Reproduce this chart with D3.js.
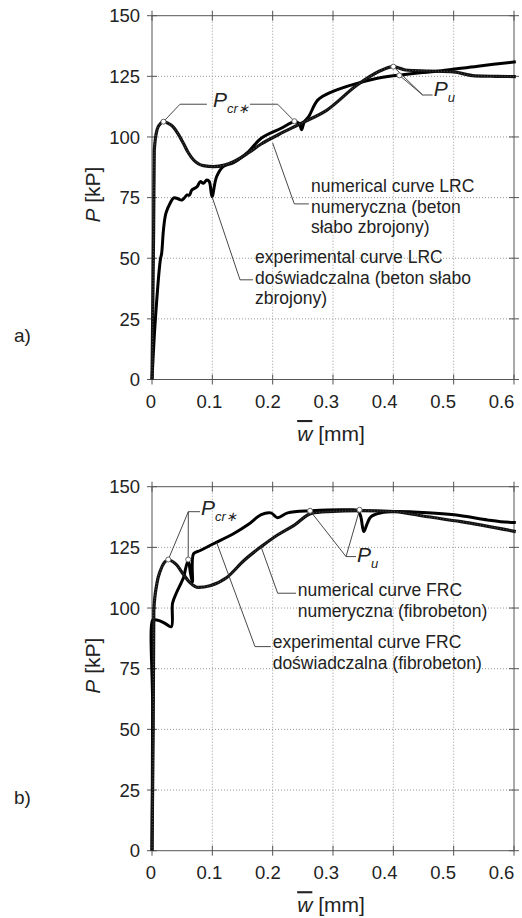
<!DOCTYPE html>
<html>
<head>
<meta charset="utf-8">
<script src="https://cdn.jsdelivr.net/npm/d3@7"></script>
<style>
  body { margin: 0; background: #fff; }
  text { font-family: "Liberation Sans", Arial, sans-serif; fill: #222; }
</style>
</head>
<body>
<svg id="chart"></svg>
<script>
// ---- data (w [mm], P [kP]) ----
const xTicks = [0, 0.1, 0.2, 0.3, 0.4, 0.5, 0.6];
const yTicks = [0, 25, 50, 75, 100, 125, 150];

// a) LRC
const lrcNumerical = [
  [0, 0], [0.0027, 62], [0.0038, 94.6], [0.0083, 102.9], [0.013, 105.2], [0.019, 106.3],
  [0.027, 105.6], [0.035, 104.2], [0.044, 101], [0.052, 97.4], [0.06, 93.6], [0.069, 90.5],
  [0.085, 88.2], [0.102, 87.8], [0.12, 88.4], [0.135, 89.8], [0.16, 93.5], [0.181, 97.1],
  [0.21, 101], [0.247, 105.6], [0.29, 111.1], [0.34, 121.4], [0.375, 126.9], [0.4, 129],
  [0.42, 127.6], [0.46, 127.2], [0.5, 126.8], [0.535, 125.2], [0.57, 125], [0.603, 124.9]
];
const lrcExperimental = [
  [0, 0], [0.0055, 24.5], [0.0138, 49.3], [0.016, 52], [0.019, 61.7], [0.023, 68.5],
  [0.03, 72.7], [0.036, 74.9], [0.041, 74.7], [0.05, 74], [0.058, 76.1], [0.062, 76],
  [0.066, 78.1], [0.0746, 79.5], [0.08, 81.6], [0.085, 80.9], [0.091, 82.3], [0.095, 81.6],
  [0.0995, 75.4], [0.107, 83.6], [0.118, 87.8], [0.135, 89.4], [0.16, 94], [0.181, 99.5],
  [0.214, 103.6], [0.236, 106.3], [0.244, 105.5], [0.248, 103], [0.252, 106], [0.26, 108.5],
  [0.275, 115.3], [0.3, 118.8], [0.34, 122.1], [0.37, 124], [0.4, 125.2], [0.45, 126.6],
  [0.48, 127.3], [0.54, 129.2], [0.603, 131]
];
const lrcPcr = [[0.019, 106.3], [0.236, 106.5]];
const lrcPu = [[0.4, 129], [0.41, 125.4]];

// b) FRC
const frcNumerical = [
  [0, 0], [0.002, 50], [0.003, 99], [0.008, 110], [0.014, 115.5], [0.02, 118.6], [0.027, 119.8],
  [0.04, 118], [0.052, 113.9], [0.063, 110.5], [0.077, 108.5], [0.096, 109.2], [0.124, 112.6],
  [0.152, 119.5], [0.181, 125.3], [0.208, 130.1], [0.236, 134.2], [0.264, 139], [0.291, 139.7],
  [0.346, 140.1], [0.402, 139.7], [0.457, 137.6], [0.512, 135.6], [0.603, 131.5]
];
const frcExperimental = [
  [0, 0], [0.001, 60], [0.001, 95], [0.004, 95.2], [0.012, 94.8], [0.022, 93.6], [0.032, 92.3],
  [0.034, 101.9], [0.04, 106], [0.048, 110.2], [0.053, 113], [0.055, 115.5], [0.06, 119.6],
  [0.064, 114.1], [0.067, 110.8], [0.069, 122.4], [0.08, 123.7], [0.102, 126.5], [0.135, 130.6],
  [0.16, 134.5], [0.181, 138.5], [0.197, 139.2], [0.208, 137.2], [0.225, 139.2], [0.264, 140.1],
  [0.324, 140.5], [0.341, 140.2], [0.346, 137.7], [0.351, 131.5], [0.357, 135], [0.363, 137.7],
  [0.38, 139.3], [0.402, 139.8], [0.457, 139.3], [0.501, 138.4], [0.556, 136.3], [0.578, 135.6],
  [0.603, 135.2]
];
const frcPcr = [[0.027, 120], [0.06, 120]];
const frcPu = [[0.262, 140.1], [0.344, 140.5]];

const width = 522, height = 918;
const svg = d3.select("#chart")
  .attr("width", width)
  .attr("height", height)
  .style("background", "#fff");

const x = d3.scaleLinear().domain([0, 0.6]).range([152, 514]);
// tick labels in the scan sit on a slightly tighter spacing than the ticks
const xLab = d3.scaleLinear().domain([0, 0.6]).range([151, 501.5]);

const panels = [
  {
    name: "a)", y: d3.scaleLinear().domain([0, 150]).range([379.5, 15.7]),
    numerical: lrcNumerical, experimental: lrcExperimental,
    pcr: lrcPcr, pu: lrcPu,
    // leaders: [points in data units]
    pcrLeaders: [[[0.019, 106.3], [0.0464, 113.5], [0.091, 113.5]],
                 [[0.1624, 113.5], [0.2083, 113.5], [0.236, 106.5]]],
    pcrLabel: [0.101, 112.4],
    puLeaders: [[[0.4, 129], [0.4487, 117.3], [0.465, 117.3]],
                [[0.41, 125.4], [0.4487, 117.3]]],
    puLabel: [0.467, 116.9],
    numText: { at: [0.2635, 77.3], lines: ["numerical curve LRC", "numeryczna (beton", "słabo zbrojony)"] },
    numLeader: [[0.2, 97.5], [0.2359, 72.4], [0.26, 72.4]],
    expText: { at: [0.1707, 48.0], lines: ["experimental curve LRC", "doświadczalna (beton słabo", "zbrojony)"] },
    expLeader: [[0.0995, 75.4], [0.1459, 41.1], [0.1674, 41.1]],
    labelY: 341.5
  },
  {
    name: "b)", y: d3.scaleLinear().domain([0, 150]).range([850.7, 486.7]),
    numerical: frcNumerical, experimental: frcExperimental,
    pcr: frcPcr, pu: frcPu,
    pcrLeaders: [[[0.027, 120], [0.0602, 139.7], [0.0796, 139.7]],
                 [[0.06, 120], [0.0602, 139.7]]],
    pcrLabel: [0.0812, 138.2],
    puLeaders: [[[0.262, 140.1], [0.3216, 121.2], [0.3381, 121.2]],
                [[0.344, 140.5], [0.3216, 121.2]]],
    puLabel: [0.3398, 119],
    numText: { at: [0.2415, 104.9], lines: ["numerical curve FRC", "numeryczna (fibrobeton)"] },
    numLeader: [[0.1807, 125.3], [0.2083, 106.1], [0.2387, 106.1]],
    expText: { at: [0.2, 83.5], lines: ["experimental curve FRC", "doświadczalna (fibrobeton)"] },
    expLeader: [[0.107, 127.1], [0.1707, 84.1], [0.197, 84.1]],
    labelY: 804
  }
];

panels.forEach(p => {
  const y = p.y;
  const g = svg.append("g");
  const x0 = x(0), x1 = x(0.6), y0 = y(0), y1 = y(150);

  // dotted grid
  g.selectAll(".gx").data(xTicks.slice(1, -1)).enter().append("line")
    .attr("x1", d => x(d)).attr("x2", d => x(d)).attr("y1", y1).attr("y2", y0)
    .style("stroke", "#999").style("stroke-width", 1).style("stroke-dasharray", "1,2");
  g.selectAll(".gy").data(yTicks.slice(1, -1)).enter().append("line")
    .attr("x1", x0).attr("x2", x1).attr("y1", d => y(d)).attr("y2", d => y(d))
    .style("stroke", "#999").style("stroke-width", 1).style("stroke-dasharray", "1,2");

  // frame
  g.append("rect").attr("x", x0).attr("y", y1).attr("width", x1 - x0).attr("height", y0 - y1)
    .style("fill", "none").style("stroke", "#555").style("stroke-width", 1);

  // crossing ticks on all four sides
  [y0, y1].forEach(yy => {
    g.selectAll(null).data(xTicks).enter().append("line")
      .attr("x1", d => x(d)).attr("x2", d => x(d)).attr("y1", yy - 5).attr("y2", yy + 5)
      .style("stroke", "#555").style("stroke-width", 1);
  });
  [x0, x1].forEach(xx => {
    g.selectAll(null).data(yTicks).enter().append("line")
      .attr("x1", xx - 5).attr("x2", xx + 5).attr("y1", d => y(d)).attr("y2", d => y(d))
      .style("stroke", "#555").style("stroke-width", 1);
  });

  // tick labels
  g.selectAll(".xl").data(xTicks).enter().append("text")
    .attr("x", d => xLab(d)).attr("y", y0 + 28.5)
    .attr("text-anchor", "middle").style("font-size", "18.5px")
    .text(d => d === 0 ? "0" : d3.format(".1f")(d));
  g.selectAll(".yl").data(yTicks).enter().append("text")
    .attr("x", 140).attr("y", d => y(d)).attr("dy", "0.36em")
    .attr("text-anchor", "end").style("font-size", "18.5px")
    .text(d => d);

  // axis titles
  g.append("text")
    .attr("transform", `translate(100,${(y0 + y1) / 2 - 3}) rotate(-90)`)
    .attr("text-anchor", "middle").style("font-size", "21px")
    .call(t => {
      t.append("tspan").style("font-style", "italic").text("P");
      t.append("tspan").text(" [kP]");
    });
  g.append("text")
    .attr("x", 331).attr("y", y0 + 61.5)
    .attr("text-anchor", "middle").style("font-size", "21px")
    .call(t => {
      t.append("tspan").style("font-style", "italic").style("text-decoration", "overline").text("w");
      t.append("tspan").text(" [mm]");
    });

  // panel label
  g.append("text").attr("x", 14).attr("y", p.labelY).style("font-size", "19px").text(p.name);

  // curves
  const lineLin = d3.line().x(d => x(d[0])).y(d => y(d[1])).curve(d3.curveCatmullRom.alpha(0.5));
  const lineSmooth = d3.line().x(d => x(d[0])).y(d => y(d[1])).curve(d3.curveMonotoneX);

  g.append("path").attr("d", lineLin(p.experimental))
    .style("fill", "none").style("stroke", "#000").style("stroke-width", 3)
    .style("stroke-linejoin", "round");
  g.append("path").attr("d", lineSmooth(p.numerical))
    .style("fill", "none").style("stroke", "#111").style("stroke-width", 3.2);
  // beaded look of the numerical curve
  g.append("path").attr("d", lineSmooth(p.numerical))
    .style("fill", "none").style("stroke", "#fff").style("stroke-width", 0.7)
    .style("stroke-dasharray", "0.7,2.2").style("opacity", 0.5);

  // leader lines
  const leader = d3.line().x(d => x(d[0])).y(d => y(d[1]));
  const leaders = [...p.pcrLeaders, ...p.puLeaders, p.numLeader, p.expLeader];
  g.selectAll(".ld").data(leaders).enter().append("path")
    .attr("d", d => leader(d))
    .style("fill", "none").style("stroke", "#333").style("stroke-width", 0.9);

  // characteristic points
  g.selectAll(".pt").data([...p.pcr, ...p.pu]).enter().append("circle")
    .attr("cx", d => x(d[0])).attr("cy", d => y(d[1])).attr("r", 2.5)
    .style("fill", "#fff").style("stroke", "#666").style("stroke-width", 1);

  // P labels
  const sym = (pos, sub) => {
    const t = g.append("text").attr("x", x(pos[0])).attr("y", y(pos[1]))
      .style("font-style", "italic").style("font-size", "21px");
    t.append("tspan").text("P");
    t.append("tspan").attr("dy", 6).style("font-size", "13px").text(sub);
  };
  sym(p.pcrLabel, "cr∗");
  sym(p.puLabel, "u");

  // curve descriptions
  [p.numText, p.expText].forEach(tb => {
    g.selectAll(null).data(tb.lines).enter().append("text")
      .attr("x", x(tb.at[0])).attr("y", (d, i) => y(tb.at[1]) + i * 20.5)
      .style("font-size", "17.5px")
      .text(d => d);
  });
});
</script>
</body>
</html>
